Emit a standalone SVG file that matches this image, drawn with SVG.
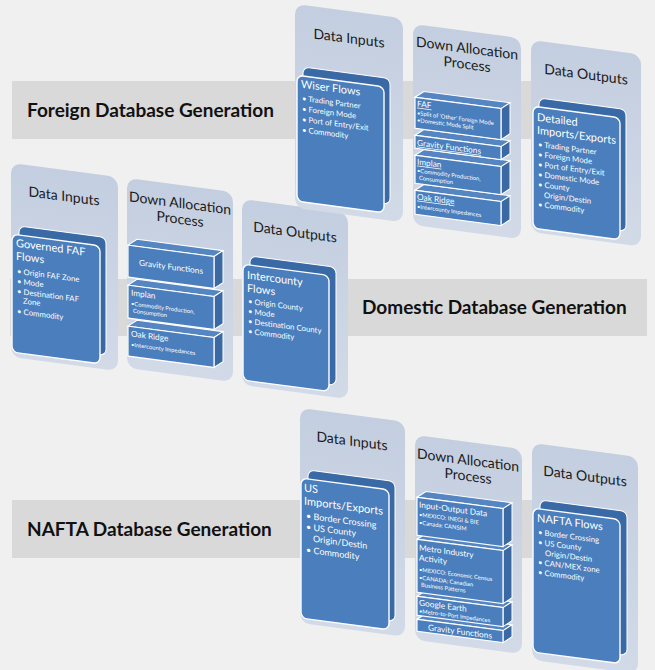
<svg xmlns="http://www.w3.org/2000/svg" width="655" height="670" viewBox="0 0 655 670">
<defs>
<linearGradient id="pg" x1="0" y1="0" x2="0" y2="1">
<stop offset="0" stop-color="#c3cee0"/>
<stop offset="1" stop-color="#d2dae7"/>
</linearGradient>
<style>
.panel{fill:url(#pg);}
.cb{fill:#3a6aa6;stroke:#ffffff;stroke-width:1;}
.cf{fill:#4a7ebc;stroke:#ffffff;stroke-width:1.4;}
.bf{fill:#4a7ebc;stroke:#ffffff;stroke-width:1.2;}
.bt{fill:#5586c2;stroke:#ffffff;stroke-width:1;}
.br{fill:#3a69a4;stroke:#ffffff;stroke-width:1;}
.band{fill:#d9d9d9;}
.bandt{font-family:Lato,"Liberation Sans",sans-serif;font-weight:bold;font-size:19px;fill:#111111;}
.ttl{font-family:Lato,"Liberation Sans",sans-serif;font-size:14px;fill:#1a1a1a;text-anchor:middle;}
.ct{font-family:Lato,"Liberation Sans",sans-serif;font-size:11px;fill:#ffffff;}
.cbul{font-family:Lato,"Liberation Sans",sans-serif;font-size:7.8px;fill:#ffffff;}
.st{font-family:Lato,"Liberation Sans",sans-serif;font-size:8.3px;fill:#ffffff;}
.su{text-decoration:underline;}
.sb{font-family:Lato,"Liberation Sans",sans-serif;font-size:5.8px;fill:#ffffff;}
</style>
</defs>
<rect x="0" y="0" width="655" height="670" fill="#f0f0f0"/>

<g id="bands">
<rect class="band" x="12" y="81" width="628" height="58"/>
<rect class="band" x="10" y="279" width="637" height="57"/>
<rect class="band" x="12" y="500" width="626" height="58"/>
</g>
<g id="labels">
<text class="bandt" x="27" y="117">Foreign Database Generation</text>
<text class="bandt" x="362" y="314">Domestic Database Generation</text>
<text class="bandt" x="27" y="536">NAFTA Database Generation</text>
</g>

<!-- Domestic section -->
<g id="domestic-inputs" transform="translate(11,163) skewY(7.5)">
<rect class="panel" x="0" y="0" width="107" height="194" rx="10"/>
<text class="ttl" x="53" y="31">Data Inputs</text>
<rect class="cb" x="8" y="62" width="87" height="118" rx="6"/>
<rect class="cf" x="1" y="71" width="88" height="118" rx="6"/>
<text class="ct" x="5" y="83">Governed FAF</text>
<text class="ct" x="5" y="96">Flows</text>
<text class="cbul" x="6" y="110">• Origin FAF Zone</text>
<text class="cbul" x="6" y="120">• Mode</text>
<text class="cbul" x="6" y="130">• Destination FAF</text>
<text class="cbul" x="12" y="139">Zone</text>
<text class="cbul" x="6" y="150">• Commodity</text>
</g>

<g id="domestic-process" transform="translate(127,178) skewY(7.5)">
<rect class="panel" x="0" y="0" width="106" height="190" rx="10"/>
<text class="ttl" x="53" y="23">Down Allocation</text>
<text class="ttl" x="53" y="39">Process</text>
<g>
<polygon class="bt" points="1,148 10,141 96,141 87,148"/>
<polygon class="br" points="87,148 96,141 96,171 87,178"/>
<rect class="bf" x="1" y="148" width="86" height="30"/>
</g>
<g>
<polygon class="bt" points="1,107 10,100 96,100 87,107"/>
<polygon class="br" points="87,107 96,100 96,133 87,140"/>
<rect class="bf" x="1" y="107" width="86" height="33"/>
</g>
<g>
<polygon class="bt" points="1,67 10,60 96,60 87,67"/>
<polygon class="br" points="87,67 96,60 96,92 87,99"/>
<rect class="bf" x="1" y="67" width="86" height="32"/>
</g>
<text class="st" x="44" y="86" text-anchor="middle">Gravity Functions</text>
<text class="st" x="4" y="117">Implan</text>
<text class="sb" x="4" y="127">•Commodity Production,</text>
<text class="sb" x="6" y="134">Consumption</text>
<text class="st" x="4" y="158">Oak Ridge</text>
<text class="sb" x="4" y="168">•Intercounty Impedances</text>
</g>

<g id="domestic-outputs" transform="translate(242,199) skewY(7.5)">
<rect class="panel" x="0" y="0" width="106" height="186" rx="10"/>
<text class="ttl" x="53" y="31">Data Outputs</text>
<rect class="cb" x="8" y="56" width="86" height="118" rx="6"/>
<rect class="cf" x="1" y="65" width="86" height="116" rx="6"/>
<text class="ct" x="5" y="79">Intercounty</text>
<text class="ct" x="5" y="92">Flows</text>
<text class="cbul" x="6" y="104">• Origin County</text>
<text class="cbul" x="6" y="114">• Mode</text>
<text class="cbul" x="6" y="124">• Destination County</text>
<text class="cbul" x="6" y="134">• Commodity</text>
</g>

<!-- Foreign section -->
<g id="foreign-inputs" transform="translate(295,4) skewY(7.5)">
<rect class="panel" x="0" y="0" width="108" height="204" rx="10"/>
<text class="ttl" x="54" y="32">Data Inputs</text>
<rect class="cb" x="8" y="62" width="87" height="126" rx="6"/>
<rect class="cf" x="2" y="71" width="87" height="126" rx="6"/>
<text class="ct" x="6" y="83">Wiser Flows</text>
<text class="cbul" x="7" y="96">• Trading Partner</text>
<text class="cbul" x="7" y="106.5">• Foreign Mode</text>
<text class="cbul" x="7" y="117">• Port of Entry/Exit</text>
<text class="cbul" x="7" y="127.5">• Commodity</text>
</g>

<g id="foreign-process" transform="translate(413,24) skewY(7.5)">
<rect class="panel" x="0" y="0" width="108" height="201" rx="10"/>
<text class="ttl" x="54" y="22">Down Allocation</text>
<text class="ttl" x="54" y="38">Process</text>
<g>
<polygon class="bt" points="2,166 11,159 97,159 88,166"/>
<polygon class="br" points="88,166 97,159 97,183 88,190"/>
<rect class="bf" x="2" y="166" width="86" height="24"/>
</g>
<g>
<polygon class="bt" points="2,131 11,124 97,124 88,131"/>
<polygon class="br" points="88,131 97,124 97,152 88,159"/>
<rect class="bf" x="2" y="131" width="86" height="28"/>
</g>
<g>
<polygon class="bt" points="2,111 11,104 97,104 88,111"/>
<polygon class="br" points="88,111 97,104 97,117 88,124"/>
<rect class="bf" x="2" y="111" width="86" height="13"/>
</g>
<g>
<polygon class="bt" points="2,73 11,66 97,66 88,73"/>
<polygon class="br" points="88,73 97,66 97,97 88,104"/>
<rect class="bf" x="2" y="73" width="86" height="31"/>
</g>
<text class="st su" x="4" y="82">FAF</text>
<text class="sb" x="4" y="90.5">•Split of ‘Other’ Foreign Mode</text>
<text class="sb" x="4" y="97.5">•Domestic Mode Split</text>
<text class="st su" x="4" y="121">Gravity Functions</text>
<text class="st su" x="4" y="140">Implan</text>
<text class="sb" x="4" y="148">•Commodity Production,</text>
<text class="sb" x="6" y="155">Consumption</text>
<text class="st su" x="4" y="175">Oak Ridge</text>
<text class="sb" x="4" y="184">•Intercounty Impedances</text>
</g>

<g id="foreign-outputs" transform="translate(531,40) skewY(7.5)">
<rect class="panel" x="0" y="0" width="110" height="192" rx="10"/>
<text class="ttl" x="55" y="32">Data Outputs</text>
<rect class="cb" x="8" y="57" width="87" height="122" rx="6"/>
<rect class="cf" x="2" y="66" width="87" height="122" rx="6"/>
<text class="ct" x="6" y="80">Detailed</text>
<text class="ct" x="6" y="93">Imports/Exports</text>
<text class="cbul" x="7" y="106">• Trading Partner</text>
<text class="cbul" x="7" y="116">• Foreign Mode</text>
<text class="cbul" x="7" y="126">• Port of Entry/Exit</text>
<text class="cbul" x="7" y="136">• Domestic Mode</text>
<text class="cbul" x="7" y="146">• County</text>
<text class="cbul" x="13" y="156">Origin/Destin</text>
<text class="cbul" x="7" y="166">• Commodity</text>
</g>

<!-- NAFTA section -->
<g id="nafta-inputs" transform="translate(300,408) skewY(7.5)">
<rect class="panel" x="0" y="0" width="105" height="215" rx="10"/>
<text class="ttl" x="52" y="31">Data Inputs</text>
<rect class="cb" x="8" y="61" width="87" height="140" rx="6"/>
<rect class="cf" x="1" y="70" width="88" height="140" rx="6"/>
<text class="ct" x="4" y="83">US</text>
<text class="ct" x="4" y="96">Imports/Exports</text>
<text class="cbul" x="6" y="110" style="font-size:9px">• Border Crossing</text>
<text class="cbul" x="6" y="121" style="font-size:9px">• US County</text>
<text class="cbul" x="13" y="132" style="font-size:9px">Origin/Destin</text>
<text class="cbul" x="6" y="144" style="font-size:9px">• Commodity</text>
</g>

<g id="nafta-process" transform="translate(415,435) skewY(7.5)">
<rect class="panel" x="0" y="0" width="107" height="205" rx="10"/>
<text class="ttl" x="53" y="23">Down Allocation</text>
<text class="ttl" x="53" y="39">Process</text>
<g>
<polygon class="bt" points="2,184 11,177 97,177 88,184"/>
<polygon class="br" points="88,184 97,177 97,189 88,196"/>
<rect class="bf" x="2" y="184" width="86" height="12"/>
</g>
<g>
<polygon class="bt" points="2,161 11,154 97,154 88,161"/>
<polygon class="br" points="88,161 97,154 97,173 88,180"/>
<rect class="bf" x="2" y="161" width="86" height="19"/>
</g>
<g>
<polygon class="bt" points="2,104 11,97 97,97 88,104"/>
<polygon class="br" points="88,104 97,97 97,150 88,157"/>
<rect class="bf" x="2" y="104" width="86" height="53"/>
</g>
<g>
<polygon class="bt" points="2,62 11,55 97,55 88,62"/>
<polygon class="br" points="88,62 97,55 97,93 88,100"/>
<rect class="bf" x="2" y="62" width="86" height="38"/>
</g>
<text class="st" x="4" y="72">Input-Output Data</text>
<text class="sb" x="4" y="81">•MEXICO: INEGI &amp; BIE</text>
<text class="sb" x="4" y="89">•Canada: CANSIM</text>
<text class="st" x="4" y="115">Metro Industry</text>
<text class="st" x="4" y="125">Activity</text>
<text class="sb" x="4" y="136">•MEXICO: Economic Census</text>
<text class="sb" x="4" y="144">•CANADA: Canadian</text>
<text class="sb" x="6" y="151">Business Patterns</text>
<text class="st" x="4" y="170">Google Earth</text>
<text class="sb" x="4" y="177.5">•Metro-to-Port Impedances</text>
<text class="st" x="45" y="193.5" text-anchor="middle">Gravity Functions</text>
</g>

<g id="nafta-outputs" transform="translate(532,443) skewY(7.5)">
<rect class="panel" x="0" y="0" width="106" height="217" rx="10"/>
<text class="ttl" x="53" y="31">Data Outputs</text>
<rect class="cb" x="8" y="56" width="87" height="144" rx="6"/>
<rect class="cf" x="1" y="65" width="87" height="144" rx="6"/>
<text class="ct" x="5" y="78">NAFTA Flows</text>
<text class="cbul" x="6" y="91">• Border Crossing</text>
<text class="cbul" x="6" y="101">• US County</text>
<text class="cbul" x="13" y="111">Origin/Destin</text>
<text class="cbul" x="6" y="121">• CAN/MEX zone</text>
<text class="cbul" x="6" y="131">• Commodity</text>
</g>

<g id="connectors"></g>
</svg>
